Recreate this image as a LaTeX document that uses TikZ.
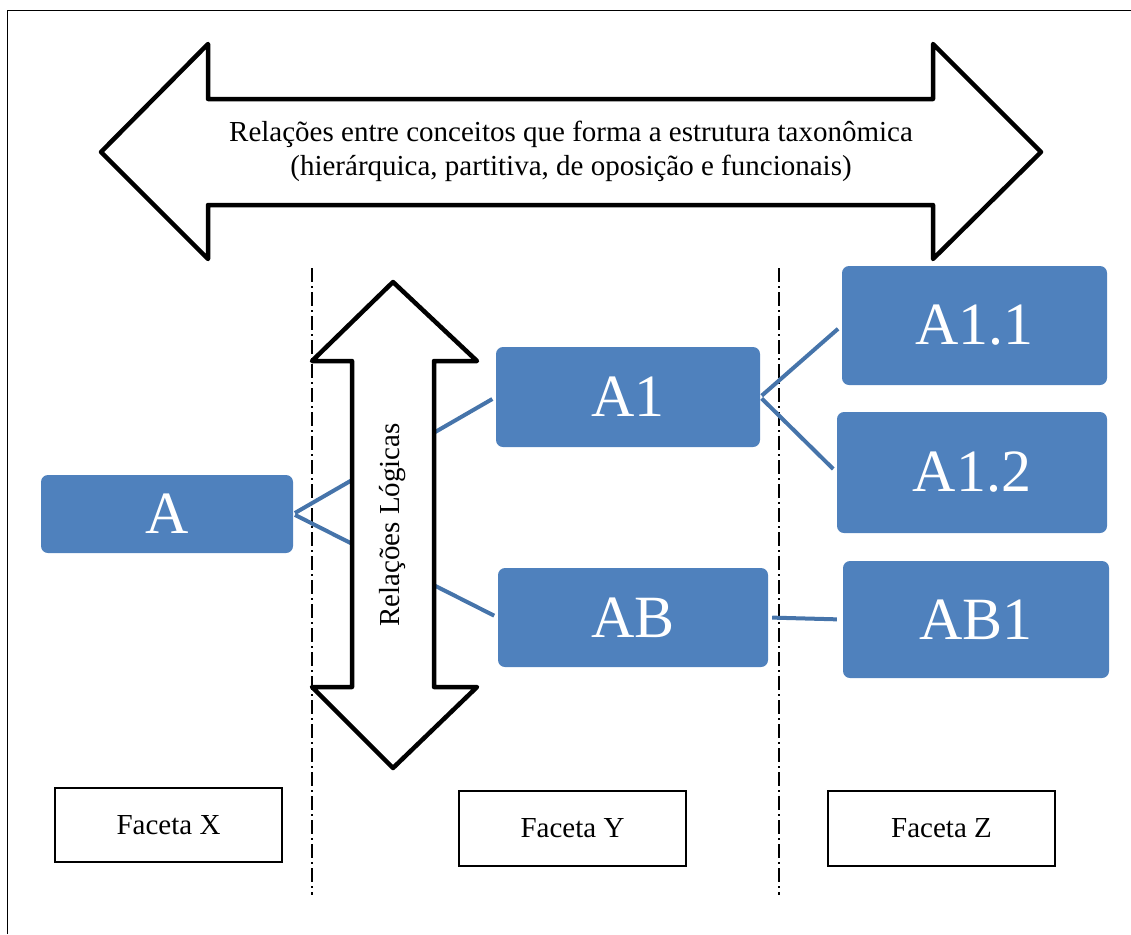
\documentclass[tikz,border=0pt]{standalone}
\usepackage{fontspec}
\setmainfont{Liberation Serif}
\definecolor{boxblue}{HTML}{4F81BD}
\definecolor{linkblue}{RGB}{70,116,170}
\begin{document}
\begin{tikzpicture}[x=1pt,y=-1pt,
  bluebox/.style={fill=boxblue, draw=none, rounded corners=7pt, text=white,
    font=\fontsize{60}{60}\selectfont, inner sep=0pt},
  facetbox/.style={draw=black, line width=1.5pt, fill=white, inner sep=0pt,
    minimum width=227pt, font=\fontsize{29}{34}\selectfont},
  link/.style={draw=linkblue, line width=4pt},
  bigarrow/.style={draw=black, fill=white, line width=4.5pt, line join=round},
  divider/.style={draw=black, line width=1.3pt, dash pattern=on 14pt off 4pt on 2pt off 4pt},
  label/.style={font=\fontsize{29}{34}\selectfont, align=center, inner sep=0pt}]
\useasboundingbox (0,0) rectangle (1131,934);

% outer frame (left and top edges)
\draw[line width=1.5pt] (7.5,934) -- (7.5,10.5) -- (1131,10.5);

% column dividers
\draw[divider] (312,268) -- (312,895);
\draw[divider] (779,268) -- (779,895);

% concept boxes
\node[bluebox, minimum width=252pt, minimum height=78pt] (A) at (167,514) {A};
\node[bluebox, minimum width=264pt, minimum height=100pt] (A1) at (628,397) {A1};
\node[bluebox, minimum width=270pt, minimum height=99pt] (AB) at (633,617.5) {AB};
\node[bluebox, minimum width=265pt, minimum height=119pt] (A11) at (974.5,325.5) {A1.1};
\node[bluebox, minimum width=270pt, minimum height=121pt] (A12) at (972,472.5) {A1.2};
\node[bluebox, minimum width=266pt, minimum height=117pt] (AB1) at (976,619.5) {AB1};

% links between concepts
\draw[link, shorten <=2pt, shorten >=4pt] (A.east) -- (A1.west);
\draw[link, shorten <=2pt, shorten >=4pt] (A.east) -- (AB.west);
\draw[link, shorten <=2pt, shorten >=5pt] (A1.east) -- (A11.west);
\draw[link, shorten <=2pt, shorten >=5pt] (A1.east) -- (A12.west);
\draw[link, shorten <=4pt, shorten >=6pt] (AB.east) -- (AB1.west);

% horizontal double arrow
\draw[bigarrow] (101,152) -- (208,44) -- (208,99) -- (933,99) -- (933,44)
  -- (1041,152) -- (933,259) -- (933,205) -- (208,205) -- (208,259) -- cycle;
\node[label] (taxo) at (571,151) {Relações entre conceitos que forma a estrutura taxonômica\\(hierárquica, partitiva, de oposição e funcionais)};

% vertical double arrow
\draw[bigarrow] (393,282) -- (477,361) -- (434,361) -- (434,687) -- (477,687)
  -- (393,768) -- (312,687) -- (352,687) -- (352,361) -- (312,361) -- cycle;
\node[label, rotate=90] (logic) at (393,525) {Relações Lógicas};

% facet labels
\node[facetbox, minimum height=74pt] (fx) at (168.5,825) {Faceta X};
\node[facetbox, minimum height=75pt] (fy) at (572.5,828.5) {Faceta Y};
\node[facetbox, minimum height=75pt] (fz) at (941.5,828.5) {Faceta Z};
\end{tikzpicture}
\end{document}
